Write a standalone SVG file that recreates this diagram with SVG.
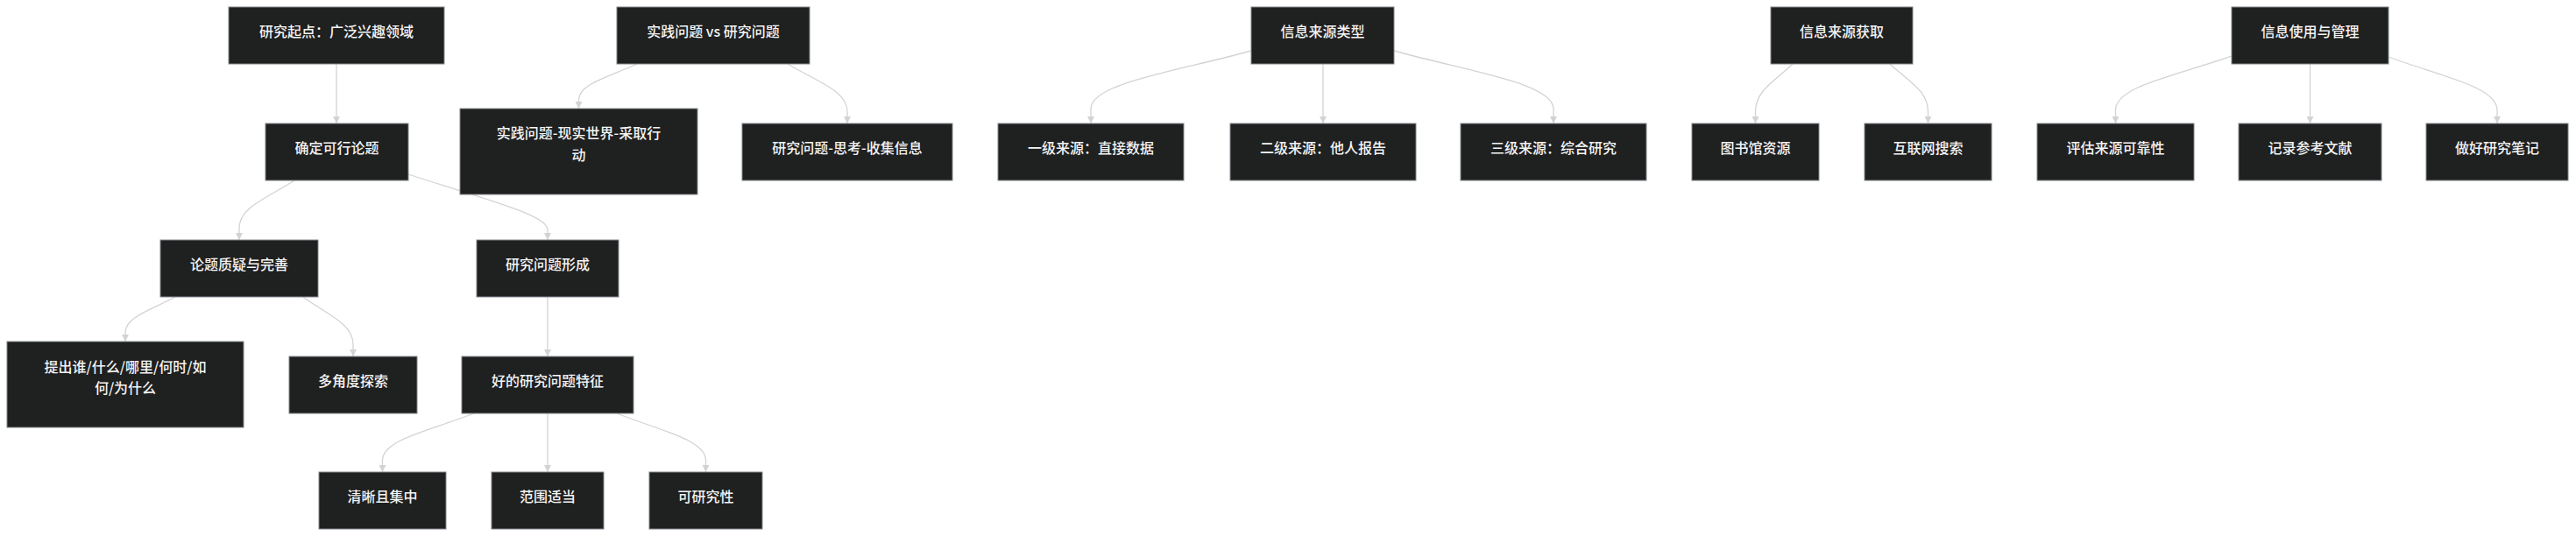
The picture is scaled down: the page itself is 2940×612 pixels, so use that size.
<svg xmlns="http://www.w3.org/2000/svg" width="2940" height="612" viewBox="0 0 2940 612">
<defs>
<style>
.node rect{fill:#1f2020;stroke:#81858b;stroke-width:1}
.node text{fill:#f4f4f4;font-family:"Noto Sans CJK SC","Liberation Sans",sans-serif;font-size:16px;font-weight:500;text-anchor:middle}
.edge{fill:none;stroke:#d3d3d3;stroke-width:1.3;marker-end:url(#arr)}
</style>
<marker id="arr" viewBox="0 0 10 10" refX="10" refY="5" markerWidth="8" markerHeight="8" markerUnits="userSpaceOnUse" orient="auto"><path d="M0,0 L10,5 L0,10 z" fill="#d3d3d3"/></marker>
</defs>
<rect width="2940" height="612" fill="#ffffff"/>
<g id="connectors">
<path class="edge" d="M384,73 L384,141"/>
<path class="edge" d="M727,73 C693.7,88.3 660.5,96 660.5,113.8 L660.5,124"/>
<path class="edge" d="M899,73 C933,93.4 967,103.6 967,127.4 L967,141"/>
<path class="edge" d="M336,206 C304.5,226.4 273,236.6 273,260.4 L273,274"/>
<path class="edge" d="M466,199 C545,225 625,245 625,262 L625,274"/>
<path class="edge" d="M200,339 C171.5,354.3 143,362 143,379.8 L143,390"/>
<path class="edge" d="M345.6,339 C374.3,359.4 403,369.6 403,393.4 L403,407"/>
<path class="edge" d="M625,339 L625,407"/>
<path class="edge" d="M541,472 C488.8,492.1 436.5,502.2 436.5,525.6 L436.5,539"/>
<path class="edge" d="M625,472 L625,539"/>
<path class="edge" d="M704,472 C754.8,492.1 805.5,502.2 805.5,525.6 L805.5,539"/>
<path class="edge" d="M1428,58 C1336.5,82.9 1245,95.4 1245,124.4 L1245,141"/>
<path class="edge" d="M1510,73 L1510,141"/>
<path class="edge" d="M1591,58 C1682,82.9 1773,95.4 1773,124.4 L1773,141"/>
<path class="edge" d="M2046,73 C2024.8,93.4 2003.5,103.6 2003.5,127.4 L2003.5,141"/>
<path class="edge" d="M2157,73 C2178.8,93.4 2200.5,103.6 2200.5,127.4 L2200.5,141"/>
<path class="edge" d="M2547,64 C2480.8,87.1 2414.5,98.7 2414.5,125.6 L2414.5,141"/>
<path class="edge" d="M2636.5,73 L2636.5,141"/>
<path class="edge" d="M2726,65 C2788,87.8 2850,99.2 2850,125.8 L2850,141"/>
</g>
<g id="n1" class="node"><rect x="261" y="8" width="246" height="65"/><text x="384" y="42">研究起点：广泛兴趣领域</text></g>
<g id="n2" class="node"><rect x="303" y="141" width="163" height="65"/><text x="384.5" y="175">确定可行论题</text></g>
<g id="n3" class="node"><rect x="183" y="274" width="180" height="65"/><text x="273" y="308">论题质疑与完善</text></g>
<g id="n4" class="node"><rect x="544" y="274" width="162" height="65"/><text x="625" y="308">研究问题形成</text></g>
<g id="n5" class="node"><rect x="8" y="390" width="270" height="98"/><text x="143" y="425">提出谁/什么/哪里/何时/如</text><text x="143" y="449">何/为什么</text></g>
<g id="n6" class="node"><rect x="330" y="407" width="146" height="65"/><text x="403" y="441">多角度探索</text></g>
<g id="n7" class="node"><rect x="527" y="407" width="196" height="65"/><text x="625" y="441">好的研究问题特征</text></g>
<g id="n8" class="node"><rect x="364" y="539" width="145" height="65"/><text x="436.5" y="573">清晰且集中</text></g>
<g id="n9" class="node"><rect x="561" y="539" width="128" height="65"/><text x="625" y="573">范围适当</text></g>
<g id="n10" class="node"><rect x="741" y="539" width="129" height="65"/><text x="805.5" y="573">可研究性</text></g>
<g id="n11" class="node"><rect x="704" y="8" width="220" height="65"/><text x="814" y="42">实践问题 vs 研究问题</text></g>
<g id="n12" class="node"><rect x="525" y="124" width="271" height="98"/><text x="660.5" y="158">实践问题-现实世界-采取行</text><text x="660.5" y="183">动</text></g>
<g id="n13" class="node"><rect x="847" y="141" width="240" height="65"/><text x="967" y="175">研究问题-思考-收集信息</text></g>
<g id="n14" class="node"><rect x="1428" y="8" width="163" height="65"/><text x="1509.5" y="42">信息来源类型</text></g>
<g id="n15" class="node"><rect x="1139" y="141" width="212" height="65"/><text x="1245" y="175">一级来源：直接数据</text></g>
<g id="n16" class="node"><rect x="1404" y="141" width="212" height="65"/><text x="1510" y="175">二级来源：他人报告</text></g>
<g id="n17" class="node"><rect x="1667" y="141" width="212" height="65"/><text x="1773" y="175">三级来源：综合研究</text></g>
<g id="n18" class="node"><rect x="2021" y="8" width="162" height="65"/><text x="2102" y="42">信息来源获取</text></g>
<g id="n19" class="node"><rect x="1931" y="141" width="145" height="65"/><text x="2003.5" y="175">图书馆资源</text></g>
<g id="n20" class="node"><rect x="2128" y="141" width="145" height="65"/><text x="2200.5" y="175">互联网搜索</text></g>
<g id="n21" class="node"><rect x="2547" y="8" width="179" height="65"/><text x="2636.5" y="42">信息使用与管理</text></g>
<g id="n22" class="node"><rect x="2325" y="141" width="179" height="65"/><text x="2414.5" y="175">评估来源可靠性</text></g>
<g id="n23" class="node"><rect x="2555" y="141" width="163" height="65"/><text x="2636.5" y="175">记录参考文献</text></g>
<g id="n24" class="node"><rect x="2769" y="141" width="162" height="65"/><text x="2850" y="175">做好研究笔记</text></g>
</svg>
